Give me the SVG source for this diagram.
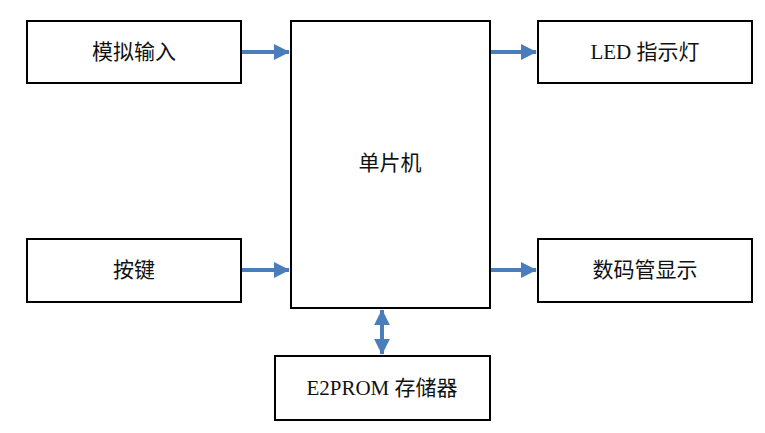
<svg xmlns="http://www.w3.org/2000/svg" width="765" height="433" viewBox="0 0 765 433">
<style>
.box{fill:#fff;stroke:#000;stroke-width:2}
.t{font-family:"Liberation Serif","Noto Sans CJK SC",serif;font-size:21px;fill:#111;text-anchor:middle;dominant-baseline:central}
.c{stroke:#4a7ebb;stroke-width:4;fill:none}
</style>
<defs>
<marker id="ah" markerWidth="4" markerHeight="4" refX="3.8" refY="2" orient="auto-start-reverse" markerUnits="strokeWidth">
<path d="M0,0 L4,2 L0,4 Z" fill="#4a7ebb"/>
</marker>
</defs>
<rect width="765" height="433" fill="#fff"/>
<g id="n_analog"><rect class="box" x="27" y="21" width="214" height="62"/><text class="t" x="134" y="52">模拟输入</text></g>
<g id="n_key"><rect class="box" x="27" y="239" width="214" height="63"/><text class="t" x="134" y="270">按键</text></g>
<g id="n_mcu"><rect class="box" x="291" y="21" width="199" height="287"/><text class="t" x="390" y="163">单片机</text></g>
<g id="n_led"><rect class="box" x="538" y="21" width="214" height="62"/><text class="t" x="645" y="52">LED 指示灯</text></g>
<g id="n_seg"><rect class="box" x="538" y="239" width="214" height="63"/><text class="t" x="645" y="270">数码管显示</text></g>
<g id="n_eeprom"><rect class="box" x="275" y="356" width="215" height="64"/><text class="t" x="382" y="388">E2PROM 存储器</text></g>
<g id="connectors">
<line class="c" x1="242" y1="52" x2="289" y2="52" marker-end="url(#ah)"/>
<line class="c" x1="242" y1="270" x2="289" y2="270" marker-end="url(#ah)"/>
<line class="c" x1="491" y1="52" x2="536" y2="52" marker-end="url(#ah)"/>
<line class="c" x1="491" y1="270" x2="536" y2="270" marker-end="url(#ah)"/>
<line class="c" x1="382" y1="310" x2="382" y2="354" marker-start="url(#ah)" marker-end="url(#ah)"/>
</g>
</svg>
